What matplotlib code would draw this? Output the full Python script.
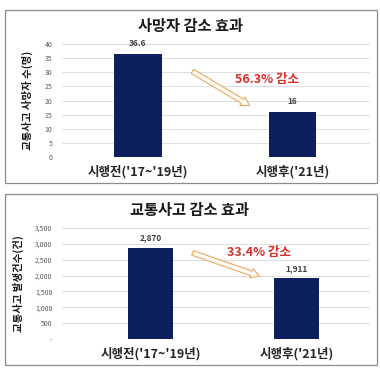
import matplotlib
matplotlib.use("Agg")
import matplotlib.pyplot as plt
from matplotlib.patches import Rectangle, FancyArrowPatch

plt.rcParams['font.family'] = ['Noto Sans CJK KR', 'DejaVu Sans']

# data
periods = ["시행전('17~'19년)", "시행후('21년)"]
deaths = [36.6, 16]
death_labels = ["36.6", "16"]
death_ticks = [0, 5, 10, 15, 20, 25, 30, 35, 40]
accidents = [2870, 1911]
accident_labels = ["2,870", "1,911"]
accident_ticks = [0, 500, 1000, 1500, 2000, 2500, 3000, 3500]
accident_ticklabels = ["-", "500", "1,000", "1,500", "2,000", "2,500", "3,000", "3,500"]

W, H = 380, 373
fig = plt.figure(figsize=(W / 100, H / 100), dpi=100)

BAR = '#0d1f5c'
GRID = '#d9d9d9'
RED = '#d9302c'


def px_axes(x0, y0, x1, y1):
    # pixel box (top-left origin) -> figure axes
    return fig.add_axes([x0 / W, 1 - y1 / H, (x1 - x0) / W, (y1 - y0) / H])


def frame(x0, y0, x1, y1):
    fig.patches.append(Rectangle((x0 / W, 1 - y1 / H), (x1 - x0) / W, (y1 - y0) / H,
                                 transform=fig.transFigure, fill=False,
                                 edgecolor='#8c8c8c', linewidth=0.9))


def panel(ax, vals, labels, ticks, ticklabels, ymax, xlim, ylabel):
    ax.bar([0, 1], vals, width=0.31, color=BAR, zorder=3)
    ax.set_xlim(*xlim)
    ax.set_ylim(0, ymax)
    ax.set_yticks(ticks)
    ax.set_yticklabels(ticklabels)
    ax.set_xticks([0, 1])
    ax.set_xticklabels(periods, fontsize=9, fontweight='bold', color='#262626')
    ax.tick_params(axis='y', length=0, pad=7, labelsize=5, labelcolor='#595959')
    ax.tick_params(axis='x', length=0, pad=6)
    ax.grid(axis='y', color=GRID, linewidth=0.6, zorder=0)
    for s in ax.spines.values():
        s.set_visible(False)
    for i, (v, t) in enumerate(zip(vals, labels)):
        ax.annotate(t, (i, v), xytext=(0, 4), textcoords='offset points',
                    ha='center', va='bottom', fontsize=6, fontweight='bold',
                    color='#404040')
    ax.set_ylabel(ylabel, fontsize=7.5, fontweight='bold', labelpad=8, color='#1a1a1a')


# top panel
frame(5, 10, 377, 183)
ax1 = px_axes(62, 44, 370, 157)
panel(ax1, deaths, death_labels, death_ticks, [str(t) for t in death_ticks], 40,
      (-0.492, 1.502), '교통사고 사망자 수(명)')
fig.text(190 / W, 1 - 26 / H, '사망자 감소 효과', ha='center', va='center',
         fontsize=11, fontweight='bold', color='#1a1a1a')
ax1.add_patch(FancyArrowPatch((0.337, 30.8), (0.738, 17.7),
                              arrowstyle='simple,head_length=6,head_width=7,tail_width=3.5',
                              facecolor='#fffaf2', edgecolor='#eba968',
                              linewidth=0.8, zorder=4))
ax1.text(0.838, 27.6, '56.3% 감소', ha='center', va='center', fontsize=9,
         fontweight='bold', color=RED)

# bottom panel
frame(5, 194, 377, 365)
ax2 = px_axes(62, 228, 370, 339)
panel(ax2, accidents, accident_labels, accident_ticks, accident_ticklabels, 3500,
      (-0.606, 1.503), '교통사고 발생건수(건)')
fig.text(190 / W, 1 - 210 / H, '교통사고 감소 효과', ha='center', va='center',
         fontsize=11, fontweight='bold', color='#1a1a1a')
ax2.add_patch(FancyArrowPatch((0.27, 2743), (0.764, 1955),
                              arrowstyle='simple,head_length=6,head_width=7,tail_width=3.5',
                              facecolor='#fffaf2', edgecolor='#eba968',
                              linewidth=0.8, zorder=4))
ax2.text(0.74, 2712, '33.4% 감소', ha='center', va='center', fontsize=9,
         fontweight='bold', color=RED)

fig.savefig('out.png', dpi=100)
